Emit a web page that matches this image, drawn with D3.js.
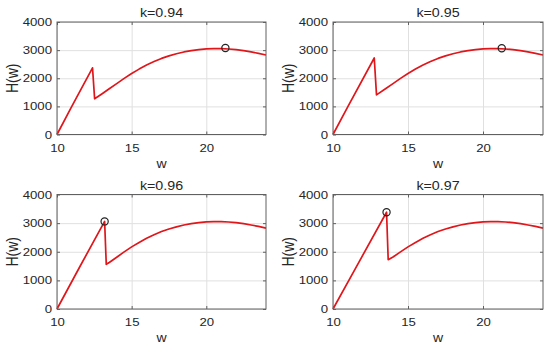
<!DOCTYPE html>
<html><head><meta charset="utf-8">
<script src="https://cdn.jsdelivr.net/npm/d3@7"></script>
<style>
html,body{margin:0;padding:0;background:#fff;}
svg{display:block;font-family:"Liberation Sans",Arial,sans-serif;}
</style></head>
<body>
<svg id="c" width="550" height="354"></svg>
<script>
// ---- data ----
const titles = ["k=0.94", "k=0.95", "k=0.96", "k=0.97"];
const xTicks = [10, 15, 20];
const yTicks = [0, 1000, 2000, 3000, 4000];
const xDomain = [10, 24];
const yDomain = [0, 4000];

const w94 = [10, 11, 12.38, 12.52, 13, 13.5, 14, 14.5, 15, 15.5, 16, 16.5, 17, 17.5, 18, 18.5, 19, 19.5, 20, 20.5, 21, 21.5, 22, 22.5, 23, 23.5, 24];
const h94 = [0, 1010, 2370, 1270, 1440, 1625, 1810, 1995, 2170, 2325, 2470, 2595, 2705, 2795, 2870, 2935, 2985, 3020, 3042, 3052, 3052, 3040, 3018, 2982, 2935, 2885, 2828];

const w95 = [10, 11, 12.75, 12.9, 13.5, 14, 14.5, 15, 15.5, 16, 16.5, 17, 17.5, 18, 18.5, 19, 19.5, 20, 20.5, 21, 21.5, 22, 22.5, 23, 23.5, 24];
const h95 = [0, 1000, 2720, 1410, 1625, 1810, 1995, 2170, 2325, 2470, 2595, 2705, 2795, 2870, 2935, 2985, 3020, 3042, 3052, 3052, 3040, 3018, 2982, 2935, 2885, 2828];

const w96 = [10, 11.5, 13.19, 13.3, 13.5, 14, 14.5, 15, 15.5, 16, 16.5, 17, 17.5, 18, 18.5, 19, 19.5, 20, 20.5, 21, 21.5, 22, 22.5, 23, 23.5, 24];
const h96 = [0, 1450, 3060, 1560, 1625, 1810, 1995, 2170, 2325, 2470, 2595, 2705, 2795, 2870, 2935, 2985, 3020, 3042, 3052, 3052, 3040, 3018, 2982, 2935, 2885, 2828];

const w97 = [10, 11.5, 13.57, 13.68, 14, 14.5, 15, 15.5, 16, 16.5, 17, 17.5, 18, 18.5, 19, 19.5, 20, 20.5, 21, 21.5, 22, 22.5, 23, 23.5, 24];
const h97 = [0, 1420, 3380, 1720, 1815, 1995, 2170, 2325, 2470, 2595, 2705, 2795, 2870, 2935, 2985, 3020, 3042, 3052, 3052, 3040, 3018, 2982, 2935, 2885, 2828];

const markerW = [21.28, 21.25, 13.19, 13.57];
const markerH = [3075, 3065, 3060, 3380];

// ---- layout ----
const panels = [
  {x0: 57, x1: 266, y0: 22, y1: 134.5, w: w94, h: h94},
  {x0: 333, x1: 543, y0: 22, y1: 134.5, w: w95, h: h95},
  {x0: 57, x1: 266, y0: 194.5, y1: 309, w: w96, h: h96},
  {x0: 333, x1: 543, y0: 194.5, y1: 309, w: w97, h: h97}
];

const svg = d3.select("#c");
const txt = "#262626";
const SX = 1.17;          // horizontal stretch of the reference's text
const fsTick = 11.3, fsTitle = 12.2, fsLab = 12;

function styleTicks(sel, pad, vertical) {
  sel.selectAll(".tick text")
    .attr("font-size", fsTick).attr("fill", txt)
    .attr("font-family", "Liberation Sans, Arial, sans-serif")
    .each(function() {
      const t = d3.select(this);
      const xv = +t.attr("x") || 0;
      t.attr("x", xv / SX).attr("transform", `scale(${SX},1)`);
    });
}

panels.forEach((p, i) => {
  const x = d3.scaleLinear().domain(xDomain).range([p.x0, p.x1]);
  const y = d3.scaleLinear().domain(yDomain).range([p.y1, p.y0]);
  const g = svg.append("g");
  const W = p.x1 - p.x0, H = p.y1 - p.y0;

  // grid
  g.append("g").attr("transform", `translate(0,${p.y1})`)
    .call(d3.axisBottom(x).tickValues(xTicks).tickSize(-H).tickFormat(""))
    .call(s => s.select(".domain").remove())
    .call(s => s.selectAll("line").attr("stroke", "#e0e0e0").attr("stroke-width", 1));
  g.append("g").attr("transform", `translate(${p.x0},0)`)
    .call(d3.axisLeft(y).tickValues(yTicks).tickSize(-W).tickFormat(""))
    .call(s => s.select(".domain").remove())
    .call(s => s.selectAll("line").attr("stroke", "#e0e0e0").attr("stroke-width", 1));

  // curve
  const pts = p.w.map((v, j) => [v, p.h[j]]);
  g.append("path").datum(pts)
    .attr("fill", "none").attr("stroke", "#e0161b").attr("stroke-width", 1.7)
    .attr("stroke-linejoin", "round")
    .attr("d", d3.line().x(d => x(d[0])).y(d => y(d[1])));

  // marker
  g.append("circle").attr("cx", x(markerW[i])).attr("cy", y(markerH[i])).attr("r", 3.6)
    .attr("fill", "none").attr("stroke", "#222").attr("stroke-width", 1.2);

  // inward ticks on all four sides
  const tickCol = "#606060";
  const inner = [
    [d3.axisBottom(x).tickValues(xTicks), `translate(0,${p.y1})`],
    [d3.axisTop(x).tickValues(xTicks), `translate(0,${p.y0})`],
    [d3.axisLeft(y).tickValues(yTicks), `translate(${p.x0},0)`],
    [d3.axisRight(y).tickValues(yTicks), `translate(${p.x1},0)`]
  ];
  inner.forEach(([a, tr]) => {
    g.append("g").attr("transform", tr)
      .call(a.tickSize(-3).tickFormat(""))
      .call(s => s.select(".domain").remove())
      .call(s => s.selectAll("line").attr("stroke", tickCol));
  });

  // tick labels
  const ax = g.append("g").attr("transform", `translate(0,${p.y1})`)
    .call(d3.axisBottom(x).tickValues(xTicks).tickSize(0).tickPadding(9).tickFormat(d3.format("d")));
  ax.select(".domain").remove();
  styleTicks(ax);
  const ay = g.append("g").attr("transform", `translate(${p.x0},0)`)
    .call(d3.axisLeft(y).tickValues(yTicks).tickSize(0).tickPadding(5).tickFormat(d3.format("d")));
  ay.select(".domain").remove();
  styleTicks(ay);

  // box
  g.append("rect").attr("x", p.x0).attr("y", p.y0).attr("width", W).attr("height", H)
    .attr("fill", "none").attr("stroke", "#606060").attr("stroke-width", 1);

  // title
  g.append("text").attr("transform", `translate(${(p.x0 + p.x1) / 2},${p.y0 - 5}) scale(${SX},1)`)
    .attr("text-anchor", "middle").attr("font-size", fsTitle).attr("fill", txt).text(titles[i]);
  // x label
  g.append("text").attr("transform", `translate(${(p.x0 + p.x1) / 2},${p.y1 + 33}) scale(${SX},1)`)
    .attr("text-anchor", "middle").attr("font-size", fsLab).attr("fill", txt).text("w");
  // y label
  g.append("text").attr("transform", `translate(${p.x0 - 39},${(p.y0 + p.y1) / 2}) rotate(-90) scale(1,${SX})`)
    .attr("text-anchor", "middle").attr("font-size", 14).attr("fill", txt).text("H(w)");
});
</script>
</body></html>
